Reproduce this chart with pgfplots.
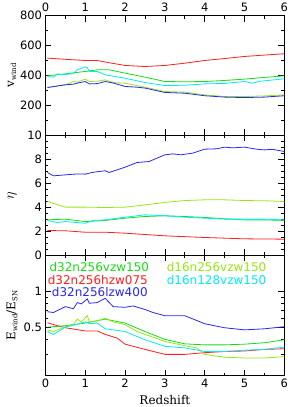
\documentclass[border=0pt]{standalone}
\usepackage{fontspec}
\setmainfont{DejaVu Sans}
\newfontfamily\seriffam{DejaVu Serif}
\usepackage{pgfplots}
\pgfplotsset{compat=1.18}
\definecolor{cred}{RGB}{255,30,30}
\definecolor{cgreen}{RGB}{20,220,20}
\definecolor{cyg}{RGB}{150,230,20}
\definecolor{ccyan}{RGB}{0,235,245}
\definecolor{cblue}{RGB}{40,40,240}
\pgfplotsset{myax/.style={scale only axis, width=238.8pt, height=120pt,
  xmin=0, xmax=6, xtick={0,...,6}, minor x tick num=1,
  tick align=inside, major tick length=6pt, minor tick length=3pt,
  xtick pos=both, ytick pos=both,
  /pgf/number format/assume math mode=true,
  tick label style={font=\fontsize{11.5}{12}\selectfont},
  every axis plot/.append style={line width=0.8pt, no marks},
  every axis y label/.style={at={(axis description cs:-0.14,0.5)}, rotate=90, anchor=center, font=\seriffam\fontsize{12}{12}\selectfont},
  axis line style={line width=0.6pt},
  every tick/.style={black, line width=0.6pt}}}
\begin{document}
\begin{tikzpicture}
\path[use as bounding box] (-45.5pt,-31.5pt) rectangle (242.5pt,375.5pt);
% top panel
\begin{axis}[myax, at={(0pt,240pt)}, anchor=south west,
  ymin=0, ymax=800, ytick={200,400,600,800}, minor ytick={100,300,500,700},
  xticklabel pos=upper,
  ylabel={v\raisebox{-2pt}{\fontsize{7}{7}\selectfont wind}}]
\addplot[cred] coordinates {(0.05,516) (0.5,508) (1,500) (1.3,500) (1.6,485) (2,467) (2.5,460) (3,467) (3.5,482) (4,500) (4.5,513) (5,527) (5.5,536) (6,545)};
\addplot[cgreen] coordinates {(0.05,398) (0.5,411) (1,427) (1.3,438) (1.6,438) (2,416) (2.5,389) (3,360) (3.5,358) (4,360) (4.5,367) (5,376) (5.5,387) (6,398)};
\addplot[ccyan] coordinates {(0.05,393) (0.2,389) (0.3,411) (0.4,405) (0.7,412) (0.8,438) (1,458) (1.05,452) (1.1,427) (1.3,427) (1.5,404) (2,382) (2.5,353) (3,333) (3.5,335) (4,344) (4.5,347) (5,360) (5.2,349) (5.4,362) (6,378)};
\addplot[cyg] coordinates {(0.05,320) (0.5,338) (0.7,360) (0.8,355) (1.0,376) (1.1,360) (1.3,362) (1.5,371) (1.7,353) (2,349) (2.5,322) (3,293) (3.5,289) (4,271) (4.5,260) (5,260) (5.5,264) (6,271)};
\addplot[cblue] coordinates {(0.05,320) (0.5,338) (0.7,342) (0.8,349) (1,360) (1.1,344) (1.3,346) (1.5,360) (1.7,350) (2,327) (2.3,322) (2.5,316) (3,287) (3.5,282) (4,265) (4.5,256) (5,253) (5.5,256) (6,265)};
\end{axis}
% middle panel
\begin{axis}[myax, at={(0pt,120pt)}, anchor=south west,
  ymin=0, ymax=10, ytick={0,2,...,10}, minor y tick num=3,
  xticklabels={},
  ylabel={\fontsize{15}{15}\selectfont$\eta$}]
\addplot[cblue] coordinates {(0.05,6.92) (0.2,6.64) (0.5,6.72) (0.8,6.8) (1,6.78) (1.2,6.94) (1.5,7.06) (1.6,6.92) (1.8,7.14) (2,7.36) (2.3,7.75) (2.6,7.83) (3,8.39) (3.2,8.47) (3.4,8.39) (3.7,8.53) (4,8.86) (4.3,8.89) (4.5,9.03) (4.7,8.97) (5,9.03) (5.3,8.86) (5.5,8.8) (5.7,8.85) (6,8.67)};
\addplot[cyg] coordinates {(0.05,4.5) (0.5,4.03) (1,4.03) (1.5,4.0) (2,4.03) (2.5,4.22) (3,4.42) (3.5,4.58) (4,4.64) (4.5,4.64) (5,4.58) (5.5,4.56) (6,4.5)};
\addplot[cgreen] coordinates {(0.05,2.97) (0.5,3.03) (1,2.83) (1.5,2.92) (2,3.11) (2.5,3.25) (3,3.31) (3.5,3.25) (4,3.17) (4.5,3.06) (5,2.97) (5.5,2.97) (6,2.92)};
\addplot[ccyan] coordinates {(0.05,2.92) (0.3,2.75) (0.5,2.83) (1,2.69) (1.2,2.92) (1.5,2.97) (2,3.19) (2.5,3.39) (3,3.31) (3.5,3.19) (4,3.11) (4.5,3.03) (5,3.03) (5.5,3.03) (6,2.97)};
\addplot[cred] coordinates {(0.05,2.08) (0.5,2.06) (1,1.94) (1.5,1.94) (2,1.86) (3,1.64) (4,1.5) (5,1.39) (6,1.36)};
\end{axis}
% bottom panel
\begin{axis}[myax, at={(0pt,0pt)}, anchor=south west,
  ymode=log, ymin=0.2, ymax=2, ytick={0.5,1}, yticklabels={0.5,1},
  minor ytick={0.3,0.4,0.6,0.7,0.8,0.9},
  xlabel={Redshift},
  every axis x label/.style={at={(axis description cs:0.5,0)}, anchor=center, yshift=-25pt, font=\seriffam\fontsize{12}{12}\selectfont},
  ylabel={E\raisebox{-2pt}{\fontsize{7}{7}\selectfont wind}/E\raisebox{-2pt}{\fontsize{7}{7}\selectfont SN}}]
\addplot[cblue] coordinates {(0.05,0.68) (0.2,0.67) (0.5,0.75) (0.7,0.72) (0.8,0.81) (0.9,0.79) (1.05,0.87) (1.1,0.80) (1.3,0.81) (1.5,0.88) (1.7,0.75) (2,0.74) (2.2,0.76) (2.5,0.71) (2.7,0.67) (3,0.63) (3.5,0.63) (4,0.54) (4.5,0.50) (5,0.48) (5.5,0.49) (6,0.51)};
\addplot[cred] coordinates {(0.05,0.55) (0.3,0.52) (0.5,0.50) (1,0.47) (1.3,0.47) (1.5,0.44) (1.8,0.41) (2,0.365) (2.5,0.33) (3,0.30) (3.5,0.30) (4,0.31) (4.5,0.317) (5,0.32) (5.5,0.33) (6,0.334)};
\addplot[cgreen] coordinates {(0.05,0.506) (0.5,0.52) (1,0.547) (1.5,0.59) (2,0.547) (2.5,0.465) (3,0.40) (3.5,0.367) (4,0.36) (4.5,0.36) (5,0.365) (5.5,0.375) (6,0.397)};
\addplot[cyg] coordinates {(0.05,0.48) (0.2,0.465) (0.5,0.51) (0.7,0.53) (0.8,0.59) (0.9,0.56) (1.05,0.63) (1.1,0.56) (1.3,0.57) (1.5,0.60) (1.7,0.56) (2,0.53) (2.3,0.465) (2.5,0.44) (3,0.385) (3.5,0.354) (3.8,0.34) (4,0.30) (4.5,0.284) (5,0.28) (5.5,0.28) (6,0.287)};
\addplot[ccyan] coordinates {(0.05,0.465) (0.2,0.44) (0.5,0.506) (0.8,0.535) (1,0.56) (1.1,0.54) (1.3,0.547) (1.5,0.49) (2,0.465) (2.5,0.397) (3,0.35) (3.5,0.34) (4,0.317) (4.5,0.317) (5,0.325) (5.5,0.33) (6,0.345)};
\node[anchor=west, inner sep=0pt, text=cgreen, font=\fontsize{12}{12}\selectfont] at (rel axis cs:0.016,0.908) {d32n256vzw150};
\node[anchor=west, inner sep=0pt, text=cred, font=\fontsize{12}{12}\selectfont] at (rel axis cs:0.009,0.796) {d32n256hzw075};
\node[anchor=west, inner sep=0pt, text=cblue, font=\fontsize{12}{12}\selectfont] at (rel axis cs:0.026,0.693) {d32n256lzw400};
\node[anchor=west, inner sep=0pt, text=cyg, font=\fontsize{12}{12}\selectfont] at (rel axis cs:0.507,0.908) {d16n256vzw150};
\node[anchor=west, inner sep=0pt, text=ccyan, font=\fontsize{12}{12}\selectfont] at (rel axis cs:0.507,0.796) {d16n128vzw150};
\end{axis}
\end{tikzpicture}
\end{document}
